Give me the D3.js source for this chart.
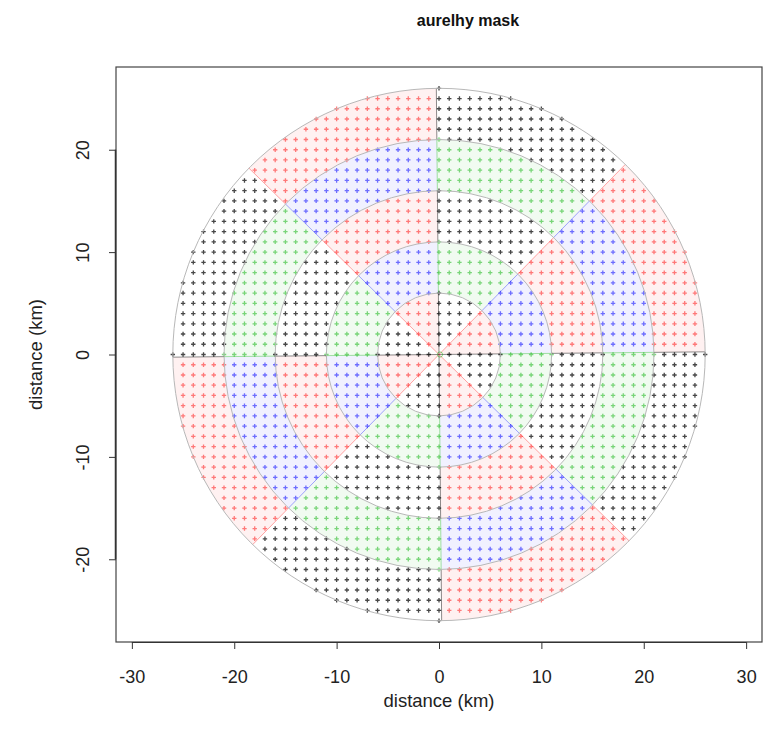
<!DOCTYPE html>
<html><head><meta charset="utf-8">
<script src="https://cdn.jsdelivr.net/npm/d3@7"></script>
<style>body{margin:0;background:#fff} text{font-family:"Liberation Sans",Arial,Helvetica,sans-serif}</style>
</head><body><svg id="c" width="777" height="737"></svg>
<script>
// ---- data ----
const ringRadii = [6, 11, 16, 21, 26];           // km, outer edge of each ring
const sectorCount = 8;                            // radial sectors
const angleOffset = 0.01;                         // radians, rotation of sector edges
const ringColorPairs = [                          // [even sector, odd sector] colours per ring
  ["red", "black"], ["blue", "green"], ["red", "black"], ["blue", "green"], ["red", "black"]
];
const gridStep = 1;                               // km between grid points
const xTicks = [-30, -20, -10, 0, 10, 20, 30];
const yTicks = [-20, -10, 0, 10, 20];
const titleText = "aurelhy mask";
const xLabel = "distance (km)";
const yLabel = "distance (km)";

// ---- layout ----
const box = {left: 116, right: 762, top: 67, bottom: 642};
const xDomain = [-31.55, 31.55];
const yDomain = [-28.08, 28.08];
const colorHex = {red: "#ff0000", black: "#000000", blue: "#0000ff", green: "#00b000"};
const pointOpacity = {red: 0.5, black: 0.72, blue: 0.55, green: 0.5};

const svg = d3.select("#c");
const x = d3.scaleLinear().domain(xDomain).range([box.left, box.right]);
const y = d3.scaleLinear().domain(yDomain).range([box.bottom, box.top]);
const pxPerKm = x(1) - x(0);
const cx = x(0), cy = y(0);
const rMax = d3.max(ringRadii);

function cellColor(ring, sector) { return ringColorPairs[ring][sector % 2]; }

// ---- tinted cells ----
const arc = d3.arc();
const cells = [];
ringRadii.forEach((r, i) => {
  for (let s = 0; s < sectorCount; s++) {
    const a0 = angleOffset + s * 2 * Math.PI / sectorCount;
    const a1 = a0 + 2 * Math.PI / sectorCount;
    cells.push({ring: i, sector: s, inner: i ? ringRadii[i - 1] : 0, outer: r, a0, a1});
  }
});
const g = svg.append("g");
g.selectAll("path.cell").data(cells).join("path")
  .attr("class", "cell")
  .attr("transform", `translate(${cx},${cy})`)
  .attr("d", d => arc({innerRadius: d.inner * pxPerKm, outerRadius: d.outer * pxPerKm,
                        startAngle: Math.PI / 2 - d.a1, endAngle: Math.PI / 2 - d.a0}))
  .attr("fill", d => colorHex[cellColor(d.ring, d.sector)])
  .attr("fill-opacity", d => cellColor(d.ring, d.sector) === "black" ? 0.0 : 0.055)
  .attr("stroke", "none");

// ---- grid points ----
const pts = [];
d3.range(-rMax, rMax + gridStep / 2, gridStep).forEach(px => {
  d3.range(-rMax, rMax + gridStep / 2, gridStep).forEach(py => {
    const r = Math.hypot(px, py);
    if (r > rMax + 1e-9 || r === 0) return;
    let th = Math.atan2(py, px) - angleOffset;
    th = ((th % (2 * Math.PI)) + 2 * Math.PI) % (2 * Math.PI);
    const sector = Math.floor(th / (2 * Math.PI / sectorCount));
    const ring = ringRadii.findIndex(rr => r <= rr + 1e-9);
    pts.push({px, py, col: cellColor(ring, sector)});
  });
});
const arm = 2.2;
g.selectAll("path.pt").data(pts).join("path")
  .attr("class", "pt")
  .attr("d", d => {
    const X = x(d.px), Y = y(d.py);
    return `M${X - arm},${Y}H${X + arm}M${X},${Y - arm}V${Y + arm}`;
  })
  .attr("stroke", d => colorHex[d.col])
  .attr("stroke-opacity", d => pointOpacity[d.col])
  .attr("stroke-width", 1.3)
  .attr("fill", "none");

// ---- rays ----
const rays = [];
for (let s = 0; s < sectorCount; s++) {
  const a = angleOffset + s * 2 * Math.PI / sectorCount;
  ringRadii.forEach((r, i) => {
    const r0 = i ? ringRadii[i - 1] : 0;
    const sec = (s + sectorCount - 1) % sectorCount;
    rays.push({a, r0, r1: r, col: cellColor(i, sec)});
  });
}
g.selectAll("line.ray").data(rays).join("line")
  .attr("class", "ray")
  .attr("x1", d => x(d.r0 * Math.cos(d.a))).attr("y1", d => y(d.r0 * Math.sin(d.a)))
  .attr("x2", d => x(d.r1 * Math.cos(d.a))).attr("y2", d => y(d.r1 * Math.sin(d.a)))
  .attr("stroke", d => colorHex[d.col])
  .attr("stroke-opacity", d => d.col === "black" ? 0.45 : 0.35)
  .attr("stroke-width", 1);

// ---- circles ----
g.selectAll("circle.ring").data(ringRadii).join("circle")
  .attr("class", "ring")
  .attr("cx", cx).attr("cy", cy).attr("r", d => d * pxPerKm)
  .attr("fill", "none").attr("stroke", "#b8b8b8").attr("stroke-width", 1);

// origin marker
g.append("circle").attr("cx", cx + 1).attr("cy", cy).attr("r", 2.6)
  .attr("fill", "none").attr("stroke", "#00b000").attr("stroke-opacity", 0.45).attr("stroke-width", 1);

// ---- frame & axes ----
svg.append("rect").attr("x", box.left).attr("y", box.top)
  .attr("width", box.right - box.left).attr("height", box.bottom - box.top)
  .attr("fill", "none").attr("stroke", "#444").attr("stroke-width", 1.2);

const fmt = d => String(d);
const xAxis = svg.append("g").attr("transform", `translate(0,${box.bottom})`)
  .call(d3.axisBottom(x).tickValues(xTicks).tickSize(7).tickFormat(fmt));
xAxis.select(".domain").attr("d", `M${x(xTicks[0])},0.5H${x(xTicks[xTicks.length - 1])}`).attr("stroke", "#333");
xAxis.selectAll(".tick line").attr("stroke", "#333");
xAxis.selectAll(".tick text").attr("font-size", 18).attr("fill", "#222")
  .attr("y", 35).attr("dy", "0.35em");

const yAxis = svg.append("g").attr("transform", `translate(${box.left},0)`)
  .call(d3.axisLeft(y).tickValues(yTicks).tickSize(7).tickFormat(fmt));
yAxis.select(".domain").attr("d", `M-0.5,${y(yTicks[0])}V${y(yTicks[yTicks.length - 1])}`).attr("stroke", "#333").attr("stroke-width", 1.5);
yAxis.selectAll(".tick line").attr("stroke", "#333");
yAxis.selectAll(".tick text")
  .attr("font-size", 18).attr("fill", "#222")
  .attr("x", null).attr("dy", null)
  .attr("text-anchor", "middle")
  .attr("transform", "translate(-33,0) rotate(-90)")
  .attr("dy", "0.35em");

svg.append("text").attr("x", 468).attr("y", 26)
  .attr("text-anchor", "middle").attr("font-size", 16).attr("font-weight", "bold").attr("fill", "#111")
  .text(titleText);
svg.append("text").attr("x", (box.left + box.right) / 2).attr("y", 707)
  .attr("text-anchor", "middle").attr("font-size", 18.5).attr("fill", "#222").text(xLabel);
svg.append("text").attr("transform", `translate(42,${(box.top + box.bottom) / 2}) rotate(-90)`)
  .attr("text-anchor", "middle").attr("font-size", 18.5).attr("fill", "#222").text(yLabel);
</script></body></html>
